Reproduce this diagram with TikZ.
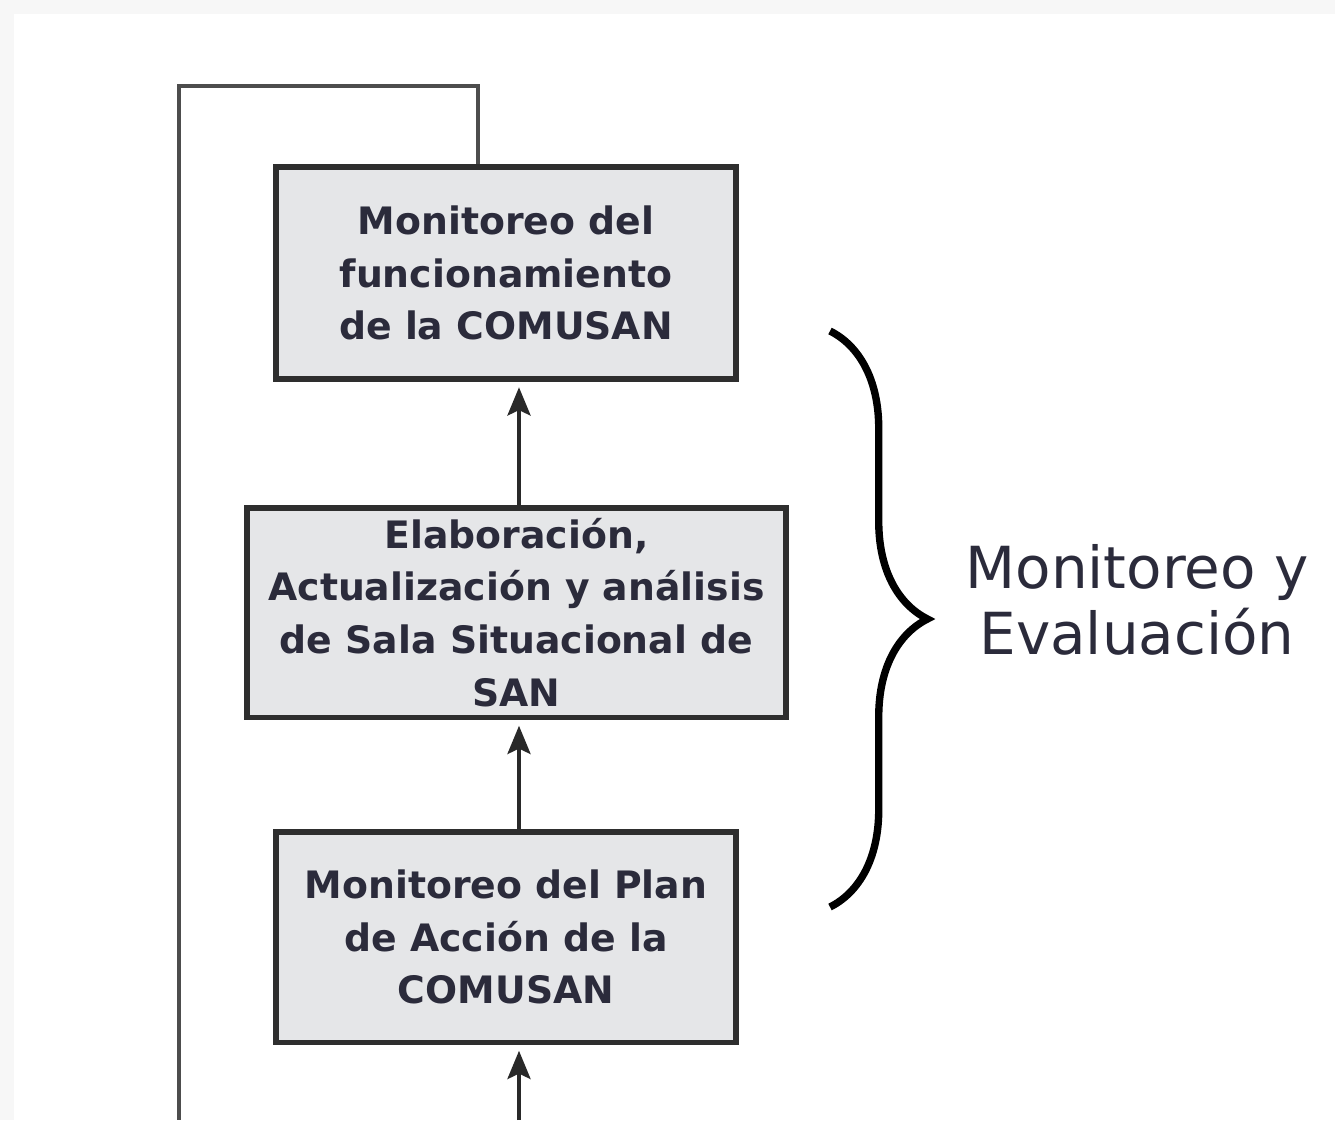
\documentclass[tikz,border=0pt]{standalone}
\usepackage{fontspec}
\setmainfont{DejaVu Sans}
\usetikzlibrary{arrows.meta,decorations.pathreplacing}
\begin{document}
\begin{tikzpicture}[x=0.02cm, y=-0.02cm,
  stage/.style = {draw = edge, line width = 3.4pt, fill = boxgrey, text = txt,
    align = center, font = \bfseries\fontsize{21.5}{30}\selectfont, inner sep = 0pt},
  flow/.style = {draw = edge!90!black, line width = 2.6pt, shorten > = 3pt,
    -{Stealth[length = 16pt, width = 13pt, inset = 3pt]}},
  back/.style = {draw = edge!85, line width = 2.2pt},
  bracket/.style = {draw = black, line width = 4.2pt,
    decorate, decoration = {brace, amplitude = 1.95cm}}]
\definecolor{txt}{HTML}{2B2B3B}
\definecolor{boxgrey}{HTML}{E5E6E8}
\definecolor{edge}{HTML}{2E2E2E}
\definecolor{page}{HTML}{F7F7F7}
\fill[page] (0, 0) rectangle (1335, 1120);
\fill[white] (14, 14) rectangle (1335, 1120);
\useasboundingbox (0, 0) rectangle (1335, 1120);
\node[stage, minimum width = 9.2cm, minimum height = 4.24cm] (funcionamiento) at (506, 273)
  {Monitoreo del\\funcionamiento\\de la COMUSAN};
\node[stage, minimum width = 10.78cm, minimum height = 4.2cm] (sala) at (516.5, 612.5)
  {Elaboración,\\Actualización y análisis\\de Sala Situacional de\\SAN};
\node[stage, minimum width = 9.2cm, minimum height = 4.22cm] (plan) at (506, 937)
  {Monitoreo del Plan\\de Acción de la\\COMUSAN};
\coordinate (axis) at (519, 0);
\coordinate (entry) at (519, 1120);
\coordinate (loopx) at (478, 0);
\coordinate (looptop) at (179, 86);
\coordinate (loopbot) at (179, 1120);
\draw[flow] (entry) -- (plan.south -| entry);
\draw[flow] (plan.north -| axis) -- (sala.south -| axis);
\draw[flow] (sala.north -| axis) -- (funcionamiento.south -| axis);
\draw[back] (funcionamiento.north -| loopx) |- (looptop) -- (loopbot);
\coordinate (bracetop) at (830, 331);
\coordinate (bracebot) at (830, 907);
\draw[bracket] (bracetop) -- (bracebot);
\node[text = txt, align = center, font = \fontsize{33}{37.6}\selectfont] (me) at (1137, 600)
  {Monitoreo y\\Evaluación};
\end{tikzpicture}
\end{document}
